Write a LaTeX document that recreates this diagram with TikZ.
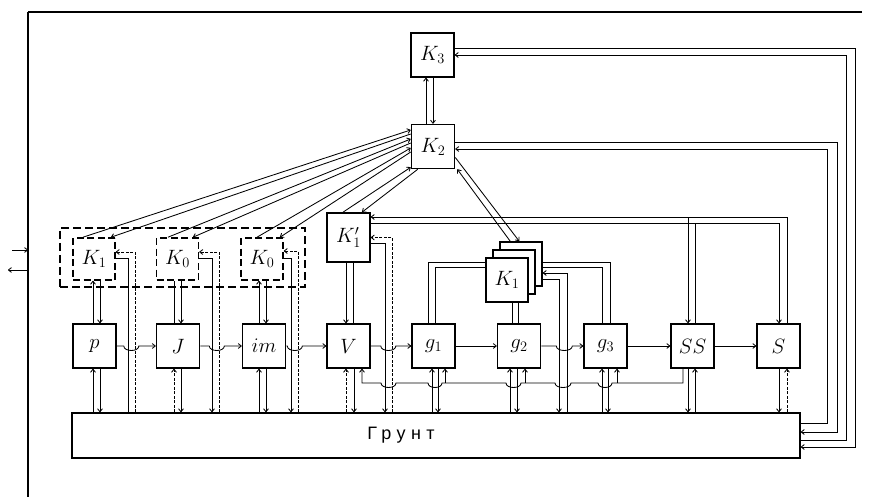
\documentclass[tikz,border=0pt]{standalone}
\usepackage{fontspec}
\newfontfamily\gruntfont[LetterSpace=30]{Liberation Sans}
\usetikzlibrary{arrows.meta}

\begin{document}
\begin{tikzpicture}[x=1pt, y=-1pt, >={To[length=3.8pt,width=5.5pt]},
    blok/.style={draw, line width=1.6pt, minimum width=43pt, minimum height=44pt, inner sep=0pt, font=\huge},
    kdash/.style={blok, minimum width=42pt, minimum height=42pt, dash pattern=on 7pt off 3.5pt},
    wire/.style={line width=0.85pt},
    fb/.style={wire, dash pattern=on 3pt off 1.5pt}]
        \useasboundingbox (0,0) rectangle (875,497);

        % Frame
        \coordinate (tl) at (28,12);
        \coordinate (tr) at (862,12);
        \coordinate (bl) at (28,497);
        \draw[line width=1.8pt] (tr) -- (tl);
        \draw[line width=1.3pt] (tl) -- (bl);
        \coordinate (inL) at (12,250);
        \coordinate (outL) at (8,270);
        \draw[wire,->] (inL) -- (inL -| tl);
        \draw[wire,->] (outL -| tl) -- (outL);

        % Wire columns
        \foreach \x in {93,100,128,135,174,181,212,219,259,266,291,298,346,353,354,362,385,392,
                        426,428,432,433,435,438,445,510,512,517,518,525,559,567,602,608,610,617,
                        683,688,695,779,787,827,837,846,855}
            \coordinate (c\x) at (\x,0);
        \coordinate (bus) at (0,383);

        % Upper control blocks
        \node[blok] (K3) at (432.5,55) {$K_3$};
        \node[blok] (K2) at (433,146.5) {$K_2$};
        \node[blok, minimum height=49pt] (K1p) at (348.5,237.5) {$K_1'$};

        % Dashed group
        \node[draw, line width=1.8pt, dash pattern=on 8pt off 4pt, minimum width=245pt, minimum height=59pt] (grp) at (182.5,257.5) {};
        \node[kdash] (K1) at (94,259) {$K_1$};
        \node[kdash] (K0a) at (177.5,259) {$K_0$};
        \node[kdash] (K0b) at (262,259) {$K_0$};

        % Stacked K1
        \node[blok, minimum width=42pt, fill=white] (K1c) at (521,264) {};
        \node[blok, minimum width=42pt, fill=white] (K1b) at (514,272) {};
        \node[blok, minimum width=42pt, fill=white] (K1s) at (507,280) {$K_1$};

        % Main row
        \foreach \n/\x/\t in {p/94.5/p, J/178/J, im/264/im, V/348.5/V, g1/433.5/g_1,
                              g2/519/g_2, g3/605.5/g_3, SS/692.5/SS, S/778.5/S}
            \node[blok] (\n) at (\x,346) {$\t$};

        % Soil
        \node[draw, line width=1.6pt, minimum width=728pt, minimum height=45pt] (grunt) at (436,435.5) {};
        \node[font=\gruntfont\fontsize{18}{21}\selectfont] (gruntlbl) at ([xshift=-35pt]grunt.center) {Грунт};
        \coordinate (gA) at ([yshift=12.5pt]grunt.east);
        \coordinate (gB) at ([yshift=3.5pt]grunt.east);
        \coordinate (gC) at ([yshift=-4.5pt]grunt.east);
        \coordinate (gD) at ([yshift=-11.5pt]grunt.east);

        % K3 - K2
        \draw[wire,->] (c426 |- K2.north) -- (c426 |- K3.south);
        \draw[wire,->] (c433 |- K3.south) -- (c433 |- K2.north);

        % Outer loops to soil
        \draw[wire,->] ([yshift=7pt]K3.east) -| (c855 |- gD) -- (gD);
        \draw[wire,->] (gC) -- (c846 |- gC) |- (K3.east);
        \draw[wire,->] ([yshift=4.5pt]K2.east) -| (c837 |- gB) -- (gB);
        \draw[wire,->] (gA) -- (c827 |- gA) |- ([yshift=-2.5pt]K2.east);

        % K2 - lower controls
        \draw[wire,->] ([xshift=-11pt]K1.north) -- ([yshift=16.5pt]K2.west);
        \draw[wire,->] ([yshift=12.5pt]K2.west) -- ([xshift=17pt]K1.north);
        \draw[wire,->] ([xshift=-9.5pt]K0a.north) -- ([yshift=7.5pt]K2.west);
        \draw[wire,->] ([yshift=3.5pt]K2.west) -- ([xshift=15.5pt]K0a.north);
        \draw[wire,->] ([xshift=-5pt]K0b.north) -- ([yshift=-1.5pt]K2.west);
        \draw[wire,->] ([yshift=-5.5pt]K2.west) -- ([xshift=18pt]K0b.north);
        \draw[wire,->] ([xshift=-5.5pt]K1p.north) -- ([yshift=2pt]K2.south west);
        \draw[wire,->] ([xshift=7pt]K2.south west) -- ([xshift=13.5pt]K1p.north);
        \draw[wire,->] ([yshift=-11pt]K2.east) -- ([xshift=20pt]K1c.north west);
        \draw[wire,->] ([xshift=11pt]K1c.north west) -- ([xshift=2pt]K2.south east);

        % K1' links
        \coordinate (t1) at ([yshift=20.5pt]K1p.east);
        \coordinate (t2) at ([yshift=14.5pt]K1p.east);
        \draw[wire,->] (c787 |- S.north) |- (t1);
        \draw[wire,->] (c688 |- t1) -- (c688 |- SS.north);
        \draw[wire,->] (t2) -| (c779 |- S.north);
        \draw[wire] (c695 |- t2) -- (c695 |- SS.north);
        \draw[wire,->] ([yshift=-5.5pt]K1p.east) -| (c385 |- grunt.north);
        \draw[fb,->] (c392 |- grunt.north) |- (K1p.east);
        \draw[wire,->] (c346 |- K1p.south) -- (c346 |- V.north);
        \draw[wire] (c353 |- V.north) -- (c353 |- K1p.south);

        % Dashed group links
        \draw[wire,->] (c93 |- p.north) -- (c93 |- K1.south);
        \draw[wire,->] (c100 |- K1.south) -- (c100 |- p.north);
        \draw[wire] (c174 |- J.north) -- (c174 |- K0a.south);
        \draw[wire,->] (c181 |- K0a.south) -- (c181 |- J.north);
        \draw[wire,->] (c259 |- im.north) -- (c259 |- K0b.south);
        \draw[wire,->] (c266 |- K0b.south) -- (c266 |- im.north);
        \draw[wire] ([yshift=1pt]K1.east) -| (c128 |- grunt.north);
        \draw[fb,->] (c135 |- grunt.north) |- ([yshift=7pt]K1.east);
        \draw[wire,->] ([yshift=1pt]K0a.east) -| (c212 |- grunt.north);
        \draw[fb,->] (c219 |- grunt.north) |- ([yshift=7pt]K0a.east);
        \draw[wire,->] ([yshift=1pt]K0b.east) -| (c291 |- grunt.north);
        \draw[fb,->] (c298 |- grunt.north) |- ([yshift=8pt]K0b.east);

        % Stacked K1 links
        \draw[wire] ([yshift=18pt]K1s.west) -| (c428 |- g1.north);
        \draw[wire] ([yshift=13pt]K1s.west) -| (c435 |- g1.north);
        \draw[wire] (c512 |- K1s.south) -- (c512 |- g2.north);
        \draw[wire] (c518 |- K1s.south) -- (c518 |- g2.north);
        \draw[wire] ([yshift=2pt]K1c.east) -| (c610 |- g3.north);
        \draw[wire] ([yshift=-3pt]K1c.east) -| (c602 |- g3.north);
        \draw[wire,->] (c567 |- grunt.north) |- ([yshift=-9pt]K1c.east);
        \draw[wire,->] ([yshift=-15pt]K1c.east) -| (c559 |- grunt.north);

        % Main chain
        \draw[wire,->] (p.east) -- ++(7,0) .. controls +(0,6) and +(0,6) .. ++(15,0) -- (J.west);
        \draw[wire,->] (J.east) -- ++(9,0) .. controls +(0,6) and +(0,6) .. ++(15,0) -- (im.west);
        \draw[wire,->] (im.east) -- ++(1,0) .. controls +(0,6) and +(0,6) .. ++(15,0) -- (V.west);
        \draw[wire,->] (V.east) -- ++(10,0) .. controls +(0,6) and +(0,6) .. ++(15,0) -- (g1.west);
        \draw[wire,->] (g1.east) -- (g2.west);
        \draw[wire,->] (g2.east) -- ++(15,0) .. controls +(0,6) and +(0,6) .. ++(16,0) -- (g3.west);
        \draw[wire,->] (g3.east) -- (SS.west);
        \draw[wire,->] (SS.east) -- (S.west);

        % Return bus from SS
        \draw[wire,->] (c683 |- SS.south) -- (c683 |- bus) -- ++(-71,0)
            .. controls +(0,6) and +(0,6) .. ++(-14,0) -- ++(-27,0)
            .. controls +(0,6) and +(0,6) .. ++(-16,0) -- ++(-34,0)
            .. controls +(0,6) and +(0,6) .. ++(-15,0) -- ++(-64,0)
            .. controls +(0,6) and +(0,6) .. ++(-14,0) -- ++(-32,0)
            .. controls +(0,6) and +(0,6) .. ++(-15,0) -- (c362 |- bus) -- (c362 |- V.south);
        \draw[wire,->] (c617 |- bus) -- (c617 |- g3.south);
        \draw[wire,->] (c525 |- bus) -- (c525 |- g2.south);
        \draw[wire,->] (c445 |- bus) -- (c445 |- g1.south);

        % Links to soil
        \draw[wire,->] (c93 |- grunt.north) -- (c93 |- p.south);
        \draw[wire,->] (c100 |- p.south) -- (c100 |- grunt.north);
        \draw[fb,->] (c174 |- grunt.north) -- (c174 |- J.south);
        \draw[wire,->] (c181 |- J.south) -- (c181 |- grunt.north);
        \draw[wire,->] (c259 |- grunt.north) -- (c259 |- im.south);
        \draw[wire,->] (c266 |- im.south) -- (c266 |- grunt.north);
        \draw[fb,->] (c346 |- grunt.north) -- (c346 |- V.south);
        \draw[wire,->] (c354 |- V.south) -- (c354 |- grunt.north);
        \draw[wire,->] (c432 |- grunt.north) -- (c432 |- g1.south);
        \draw[wire,->] (c438 |- g1.south) -- (c438 |- grunt.north);
        \draw[wire,->] (c510 |- grunt.north) -- (c510 |- g2.south);
        \draw[wire,->] (c517 |- g2.south) -- (c517 |- grunt.north);
        \draw[wire,->] (c602 |- grunt.north) -- (c602 |- g3.south);
        \draw[wire,->] (c608 |- g3.south) -- (c608 |- grunt.north);
        \draw[wire,->] (c688 |- SS.south) -- (c688 |- grunt.north);
        \draw[wire,->] (c695 |- grunt.north) -- (c695 |- SS.south);
        \draw[wire,->] (c779 |- S.south) -- (c779 |- grunt.north);
        \draw[fb,->] (c787 |- grunt.north) -- (c787 |- S.south);
    \end{tikzpicture}
\end{document}
